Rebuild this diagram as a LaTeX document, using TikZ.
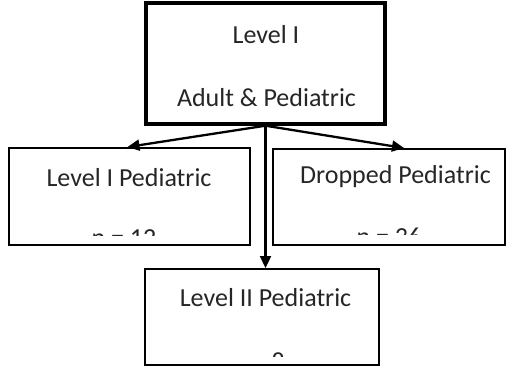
\documentclass[tikz,border=0pt]{standalone}
\usepackage{fontspec}
\setmainfont{Carlito}
\usetikzlibrary{arrows.meta,calc}
\begin{document}
\begin{tikzpicture}[x=1pt,y=-1pt,
  box/.style={draw=black,line width=2pt,fill=white,inner sep=0pt},
  topbox/.style={box,line width=3.4pt},
  lbl/.style={font=\fontsize{26}{31}\selectfont,inner sep=0pt,text=black!85},
  cnt/.style={font=\fontsize{26}{31}\selectfont,inner sep=0pt,anchor=north,text=black!85},
  conn/.style={line width=2.3pt,-{Triangle[length=12pt,width=11pt]}}]
\useasboundingbox (0,0) rectangle (510,367);
\node[topbox,minimum width=239pt,minimum height=121pt] (top) at (265.5,63.5) {};
\node[box,minimum width=241pt,minimum height=97pt] (left) at (129.5,196.5) {};
\node[box,minimum width=232pt,minimum height=96pt] (right) at (389,197) {};
\node[box,minimum width=234pt,minimum height=96pt] (bottom) at (262,317) {};
\node[lbl] (t1) at (266,35) {Level I};
\node[lbl] (t2) at (266.5,98) {Adult \& Pediatric};
\node[lbl] (l1) at (129,178) {Level I Pediatric};
\node[lbl] (r1) at (395.5,177) {Dropped Pediatric};
\node[lbl] (b1) at (265.5,298) {Level II Pediatric};
\begin{scope}
\clip (left.north west) rectangle (250,235);
\node[cnt] (l2) at (124,229.5) {n = 12};
\end{scope}
\begin{scope}
\clip (right.north west) rectangle (505,234.5);
\node[cnt] (r2) at (389,228) {n = 36};
\end{scope}
\begin{scope}
\clip (bottom.north west) rectangle (379,356.5);
\node[cnt] (b2) at (259,352.5) {n = 8};
\end{scope}
\coordinate (rt) at ($(right.north west)+(132,0)$);
\draw[conn] (top.south) -- ($(left.north)+(-2,0)$);
\draw[conn] (top.south) -- (rt);
\draw[conn] (top.south) -- (top.south |- bottom.north);
\end{tikzpicture}
\end{document}
